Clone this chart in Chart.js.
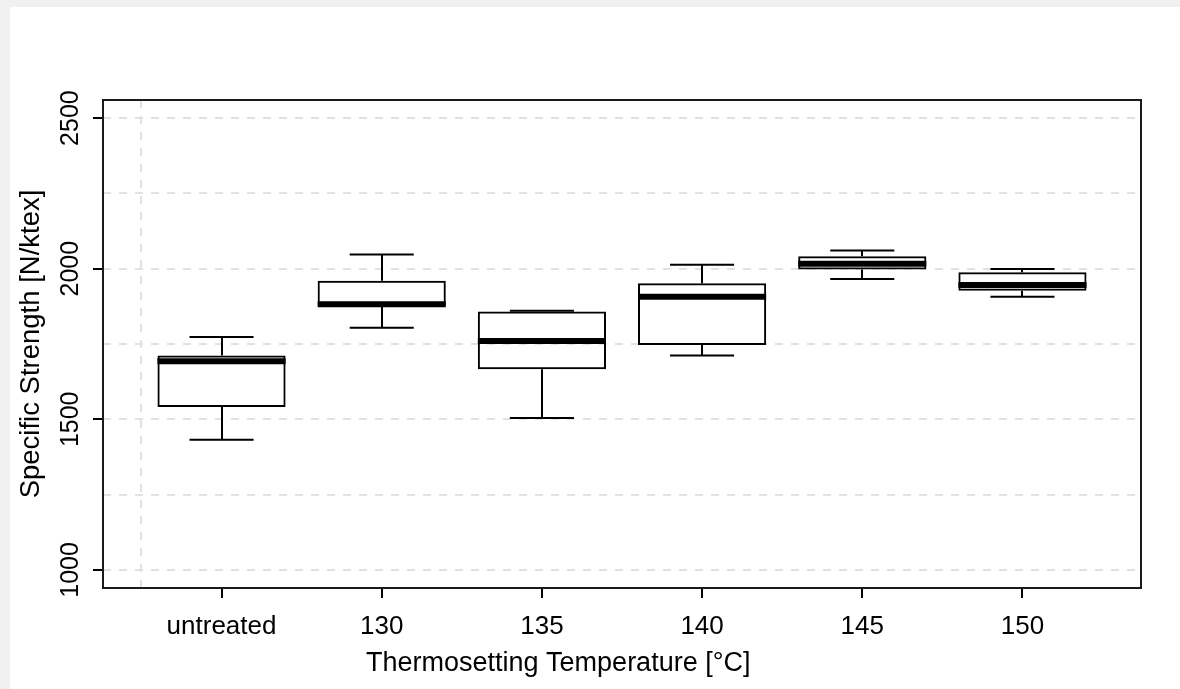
<!DOCTYPE html>
<html><head><meta charset="utf-8">
<script src="https://cdn.jsdelivr.net/npm/chart.js@4.4.1/dist/chart.umd.min.js"></script>
<style>
html,body{margin:0;padding:0;background:#f0f0f0;width:1180px;height:689px;overflow:hidden}
#wrap{position:absolute;left:10px;top:7px;width:1170px;height:682px;background:#fff}
canvas{display:block}
</style></head><body>
<div id="wrap"><canvas id="c" width="1170" height="682"></canvas></div>
<script>
// ---- data ----
const categories = ['untreated', '130', '135', '140', '145', '150'];
const categoryPositions = [1, 2, 3, 4, 5, 6];
const whiskerLow  = [1432, 1804, 1504, 1712, 1966, 1907];
const q1          = [1541, 1875, 1666, 1747, 1997, 1927];
const median      = [1693, 1882, 1760, 1907, 2016, 1946];
const q3          = [1712, 1960, 1858, 1952, 2041, 1988];
const whiskerHigh = [1773, 2047, 1860, 2013, 2060, 1999];
const yTickValues = [1000, 1250, 1500, 1750, 2000, 2250, 2500];
const yLabelValues = [1000, 1500, 2000, 2500];
const xGridValues = [0.5];
const xTitle = 'Thermosetting Temperature [°C]';
const yTitle = 'Specific Strength [N/ktex]';

// ---- style ----
const FONT = "'Liberation Sans', Arial, sans-serif";
const GRID = '#e2e2e2';
const INK = '#000';
const NONE = 'rgba(0,0,0,0)';
const BOX_HALF = 0.4, CAP_HALF = 0.2;
const MIN_TICK_GAP = 0.5; // smallest gap between x ticks (0.5 -> 1), used by the bar ruler
const TITLE_SHIFT = ' '.repeat(17); // the x title sits left of the plot centre in the original

const boxPlugin = {
  id: 'boxParts',
  afterDatasetsDraw(chart) {
    const {ctx, scales: {x, y}} = chart;
    ctx.save();
    ctx.strokeStyle = INK;
    ctx.lineCap = 'butt';
    categoryPositions.forEach((pos, i) => {
      const cx = Math.round(x.getPixelForValue(pos));
      const capL = x.getPixelForValue(pos - CAP_HALF), capR = x.getPixelForValue(pos + CAP_HALF);
      const boxL = x.getPixelForValue(pos - BOX_HALF), boxR = x.getPixelForValue(pos + BOX_HALF);
      const yHi = y.getPixelForValue(whiskerHigh[i]), yLo = y.getPixelForValue(whiskerLow[i]);
      const y1 = y.getPixelForValue(q1[i]), y3 = y.getPixelForValue(q3[i]);
      ctx.lineWidth = 2;
      ctx.beginPath();
      ctx.moveTo(cx, y3); ctx.lineTo(cx, yHi);
      ctx.moveTo(cx, y1); ctx.lineTo(cx, yLo);
      ctx.moveTo(capL, yHi); ctx.lineTo(capR, yHi);
      ctx.moveTo(capL, yLo); ctx.lineTo(capR, yLo);
      ctx.stroke();
      ctx.lineWidth = 6;
      const ym = y.getPixelForValue(median[i]);
      ctx.beginPath();
      ctx.moveTo(boxL, ym); ctx.lineTo(boxR, ym);
      ctx.stroke();
    });
    ctx.restore();
  }
};

const framePlugin = {
  id: 'frame',
  afterDraw(chart) {
    const {ctx, chartArea: a} = chart;
    ctx.save();
    ctx.strokeStyle = '#1a1a1a';
    ctx.lineWidth = 2;
    ctx.strokeRect(a.left, a.top, a.right - a.left, a.bottom - a.top);
    ctx.restore();
  }
};

new Chart(document.getElementById('c'), {
  type: 'bar',
  data: {
    datasets: [{
      data: categoryPositions.map((p, i) => ({x: p, y: [q1[i], q3[i]]})),
      backgroundColor: NONE,
      borderColor: INK,
      borderWidth: 2,
      borderSkipped: false,
      categoryPercentage: 1,
      barPercentage: 2 * BOX_HALF / MIN_TICK_GAP
    }]
  },
  options: {
    responsive: false,
    animation: false,
    events: [],
    layout: {padding: {top: 93, right: 39, left: 0, bottom: 0}},
    plugins: {legend: {display: false}, tooltip: {enabled: false}, title: {display: false}},
    scales: {
      x: {
        type: 'linear',
        min: 0.26, max: 6.74,
        offset: false,
        afterBuildTicks: s => { s.ticks = xGridValues.concat(categoryPositions).map(v => ({value: v})); },
        afterFit: s => { s.height = 101; },
        grid: {
          offset: false,
          drawTicks: true,
          tickLength: 10,
          lineWidth: 2,
          tickWidth: 2,
          color: c => (c.tick && xGridValues.includes(c.tick.value)) ? GRID : NONE,
          tickColor: c => (c.tick && xGridValues.includes(c.tick.value)) ? NONE : INK
        },
        border: {display: false, dash: [8, 8]},
        ticks: {
          autoSkip: false, maxRotation: 0, minRotation: 0,
          padding: 13,
          color: INK,
          font: {family: FONT, size: 26},
          callback: v => { const k = categoryPositions.indexOf(v); return k >= 0 ? categories[k] : ''; }
        },
        title: {
          display: true, text: xTitle + TITLE_SHIFT, color: INK,
          font: {family: FONT, size: 27, lineHeight: 1},
          padding: {top: 0, bottom: 12}
        }
      },
      y: {
        type: 'linear',
        min: 940, max: 2560,
        afterBuildTicks: s => { s.ticks = yTickValues.map(v => ({value: v})); },
        afterFit: s => { s.width = 93; },
        grid: {
          drawTicks: true,
          tickLength: 10,
          lineWidth: 2,
          tickWidth: 2,
          color: GRID,
          tickColor: c => (c.tick && yLabelValues.includes(c.tick.value)) ? INK : NONE
        },
        border: {display: false, dash: [8, 8]},
        ticks: {
          autoSkip: false, minRotation: 90, maxRotation: 90,
          crossAlign: 'center',
          padding: -6,
          color: INK,
          font: {family: FONT, size: 25},
          callback: v => yLabelValues.includes(v) ? String(v) : ''
        },
        title: {
          display: true, text: yTitle, color: INK,
          font: {family: FONT, size: 27.5, lineHeight: 1},
          padding: {top: 8, bottom: 0}
        }
      }
    }
  },
  plugins: [boxPlugin, framePlugin]
});
</script>
</body></html>
